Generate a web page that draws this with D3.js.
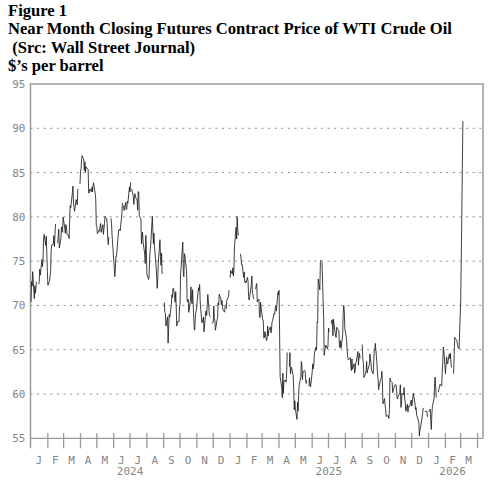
<!DOCTYPE html>
<html>
<head>
<meta charset="utf-8">
<script src="https://cdn.jsdelivr.net/npm/d3@7"></script>
<style>
  body { margin: 0; background: #fff; }
  svg { display: block; }
</style>
</head>
<body>
<svg id="plotCanvas" width="497" height="480"></svg>
<script>
// ---- data ----
var titleLines = ["Figure 1",
                  "Near Month Closing Futures Contract Price of WTI Crude Oil",
                  " (Src: Wall Street Journal)",
                  "$\u2019s per barrel"];

var yTicks = [55, 60, 65, 70, 75, 80, 85, 90, 95];
var gridValues = [60, 65, 70, 75, 80, 85, 90];
var monthLetters = ["J", "F", "M", "A", "M", "J", "J", "A", "S", "O", "N", "D"];
var yearLabels = [2024, 2025, 2026];

// exchange holidays: no close, line is broken there
var holidays = ["2024-01-01", "2024-01-15", "2024-02-19", "2024-03-29", "2024-05-27", "2024-06-19",
                "2024-07-04", "2024-09-02", "2024-11-28", "2024-12-25",
                "2025-01-01", "2025-01-20", "2025-02-17", "2025-04-18", "2025-05-26", "2025-06-19",
                "2025-07-04", "2025-09-01", "2025-11-27", "2025-12-25",
                "2026-01-01", "2026-01-19", "2026-02-16"];

// daily closes, in trading-day order
var close2024 = [
  70.38, 72.70, 72.19, 73.81, 70.77, 72.24, 71.37, 72.02, 72.68, 72.40, 72.56, 74.08, 73.41, 75.19, 74.37, 75.09, 77.36, 78.01, 76.78, 77.82, 75.85,
  73.82, 72.28, 72.78, 73.31, 73.86, 76.22, 76.84, 76.92, 77.87, 76.64, 78.03, 79.19, 77.04, 77.91, 78.61, 76.49, 77.58, 78.87, 78.54, 78.26,
  79.97, 78.74, 78.15, 79.13, 78.93, 78.01, 77.93, 77.56, 79.72, 81.26, 81.04, 82.72, 83.47, 81.68, 81.07, 80.63, 81.95, 81.62, 81.35, 83.17,
  83.71, 85.15, 85.43, 86.59, 86.91, 86.43, 85.23, 86.21, 85.02, 85.66, 85.41, 85.36, 82.69, 82.73, 83.14, 82.85, 83.36, 82.81, 83.57, 83.85, 82.63, 81.93,
  79.00, 78.95, 78.11, 78.48, 78.38, 78.99, 79.26, 78.26, 79.12, 78.02, 78.63, 79.23, 80.06, 79.80, 79.26, 77.57, 76.87, 77.72, 79.83, 79.23, 77.91, 76.99,
  74.22, 73.25, 74.07, 75.55, 75.53, 77.74, 78.50, 78.50, 78.62, 78.45, 80.33, 81.57, 81.29, 80.73, 81.63, 80.83, 80.90, 81.74, 81.54,
  83.38, 82.81, 83.88, 83.16, 82.33, 81.41, 82.10, 82.62, 82.21, 81.91, 80.76, 82.85, 82.82, 80.13, 79.78, 76.96, 77.59, 78.28, 77.16, 75.81, 74.73, 77.91,
  76.31, 73.52, 72.94, 73.20, 75.23, 76.19, 76.84, 80.06, 78.35, 76.98, 78.16, 76.65, 74.37, 73.17, 71.93, 73.01, 74.83, 77.42, 75.53, 74.52, 75.91, 73.55,
  70.34, 69.20, 69.15, 67.67, 68.71, 65.75, 67.31, 68.97, 68.65, 70.09, 71.19, 70.91, 71.95, 71.92, 70.37, 71.56, 69.69, 67.67, 68.18, 68.17,
  69.83, 70.10, 73.71, 74.38, 77.14, 73.57, 73.24, 75.85, 75.56, 73.83, 70.58, 70.39, 70.67, 69.22, 70.56, 72.09, 70.77, 70.19, 71.78, 67.38, 67.21, 68.61, 69.26,
  69.49, 71.47, 71.99, 71.69, 72.36, 70.38, 68.04, 68.12, 68.43, 68.70, 67.02, 69.16, 69.39, 68.87, 70.10, 71.24, 68.94, 68.77, 68.72, 68.00,
  68.10, 69.94, 68.54, 68.30, 67.20, 68.37, 68.59, 70.29, 70.02, 71.29, 70.71, 70.08, 70.58, 69.91, 69.46, 69.24, 70.10, 69.62, 70.60, 70.99, 71.72
];

var close2025 = [
  73.13, 73.96, 73.56, 74.25, 73.32, 73.92, 76.57, 78.82, 77.50, 80.04, 78.68, 77.88, 75.83, 75.44, 74.62, 74.66, 73.17, 73.77, 72.62, 72.73, 72.53,
  73.16, 72.70, 71.03, 70.61, 71.00, 72.32, 73.32, 71.37, 71.29, 70.74, 71.85, 72.25, 72.48, 70.40, 70.70, 68.93, 68.62, 70.35, 69.76,
  68.37, 68.26, 66.31, 66.36, 67.04, 66.03, 66.25, 67.68, 66.55, 67.18, 67.58, 66.90, 67.16, 68.07, 68.28, 69.11, 69.00, 69.65, 69.92, 69.36, 71.48,
  71.20, 71.71, 66.95, 61.99, 60.70, 59.58, 62.35, 60.07, 61.50, 61.53, 61.33, 62.47, 64.68, 63.08, 64.67, 62.27, 62.79, 63.02, 62.05, 60.42, 58.21,
  59.24, 58.29, 57.13, 59.09, 58.07, 59.91, 61.02, 61.95, 63.67, 63.15, 61.62, 62.49, 62.69, 62.56, 61.57, 61.20, 61.53, 60.89, 61.84, 60.94, 60.79,
  62.52, 63.41, 62.85, 63.37, 64.58, 65.29, 64.98, 68.15, 68.04, 72.98, 71.77, 74.84, 75.14, 74.93, 68.51, 64.37, 64.92, 65.24, 65.52, 65.11,
  65.45, 67.45, 67.00, 67.93, 68.33, 68.38, 66.57, 68.45, 66.98, 66.52, 66.38, 67.54, 67.34, 67.20, 65.31, 65.25, 66.03, 65.16, 66.71, 69.21, 70.00, 69.26,
  67.33, 66.29, 65.16, 64.35, 63.88, 63.88, 64.10, 63.17, 62.65, 63.96, 62.80, 63.42, 62.35, 62.71, 63.52, 63.66, 64.80, 63.25, 64.15, 64.60, 64.01,
  65.59, 63.97, 63.48, 61.87, 62.26, 62.63, 63.67, 62.37, 62.69, 63.30, 64.52, 64.05, 63.57, 62.68, 62.28, 63.41, 64.99, 64.98, 65.72, 63.45, 62.37,
  61.78, 60.48, 60.88, 61.69, 61.73, 62.55, 61.51, 58.90, 59.49, 58.70, 58.27, 57.46, 57.54, 57.52, 57.24, 58.50, 61.79, 61.50, 61.31, 60.15, 60.48, 60.57, 60.98,
  61.05, 60.56, 59.60, 59.43, 59.75, 60.13, 61.04, 58.49, 58.69, 60.09, 59.91, 60.74, 59.44, 59.14, 58.06, 58.84, 57.95, 58.65, 58.55,
  59.32, 58.64, 58.95, 59.67, 60.08, 58.88, 58.25, 58.46, 57.60, 57.44, 56.82, 55.27, 55.94, 56.15, 56.52, 57.80, 58.38, 58.35, 58.00, 58.08, 57.95, 57.42
];

var close2026 = [
  58.00, 58.30, 57.00, 56.00, 57.80, 58.60, 59.50, 61.20, 61.90, 60.80, 59.60, 60.20, 60.60, 60.80, 61.10, 60.90, 62.40, 63.50, 65.30, 64.90,
  62.30, 63.20, 64.20, 63.80, 63.40, 64.50, 64.00, 64.60, 63.60, 63.00, 62.30, 64.50, 66.40, 66.30, 66.00, 65.60, 65.30, 65.20, 65.10,
  70.50, 75.00, 80.00, 85.50, 90.80
];

// ---- layout ----
var plotLeft = 30.5, plotRight = 483, plotTop = 84, plotBottom = 438.3;
var tickFont = "'DejaVu Sans Mono', monospace";
var frameColor = "#9a9a9a";
var labelColor = "#858585";

//walk the weekdays of a year, holidays become gaps
function buildSeries(year, closes)
{
   var fmt = d3.timeFormat("%Y-%m-%d");
   var out = [];
   var day = new Date(year, 0, 1);
   var i = 0;
   while (i < closes.length)
   {
      var dow = day.getDay();
      if (dow != 0 && dow != 6)
      {
         if (holidays.indexOf(fmt(day)) >= 0)
         {
            out.push({date: new Date(day), value: null});
         }
         else
         {
            out.push({date: new Date(day), value: closes[i]});
            i++;
         }
      }
      day.setDate(day.getDate() + 1);
   }
   return out;
}

var series = buildSeries(2024, close2024)
   .concat(buildSeries(2025, close2025))
   .concat(buildSeries(2026, close2026));

var canvas = d3.select("#plotCanvas");

var x = d3.scaleTime()
   .domain([new Date(2024, 0, 1), new Date(2026, 3, 12)])
   .range([plotLeft, plotRight]);

var y = d3.scaleLinear()
   .domain([55, 95])
   .range([plotBottom, plotTop]);

// title block
canvas.selectAll("text.title")
   .data(titleLines)
   .enter().append("text")
   .attr("class", "title")
   .attr("x", 8)
   .attr("y", function(d, i) { return 16 + i * 18.4; })
   .attr("font-family", "'Liberation Serif', 'Times New Roman', serif")
   .attr("font-weight", "bold")
   .attr("font-size", "16.6px")
   .attr("fill", "#000")
   .attr("xml:space", "preserve")
   .style("white-space", "pre")
   .text(function(d) { return d; });

// dotted grid
canvas.selectAll("line.grid")
   .data(gridValues)
   .enter().append("line")
   .attr("class", "grid")
   .attr("x1", plotLeft)
   .attr("x2", plotRight)
   .attr("y1", function(d) { return y(d); })
   .attr("y2", function(d) { return y(d); })
   .attr("stroke", "#8c8c8c")
   .attr("stroke-width", 1)
   .attr("stroke-dasharray", "2,4.6");

// frame: left (runs down past the axis), top, right, bottom axis line
canvas.append("path")
   .attr("d", "M" + plotLeft + "," + (plotBottom + 10) + "V" + plotTop + "H" + plotRight + "V" + plotBottom)
   .attr("fill", "none")
   .attr("stroke", frameColor)
   .attr("stroke-width", 1.5);

canvas.append("line")
   .attr("x1", plotLeft).attr("x2", plotRight)
   .attr("y1", plotBottom).attr("y2", plotBottom)
   .attr("stroke", frameColor)
   .attr("stroke-width", 1.3);

// y labels
var yAxis = d3.axisLeft(y).tickValues(yTicks).tickSize(0).tickPadding(5);
var gy = canvas.append("g")
   .attr("transform", "translate(" + plotLeft + ",0)")
   .call(yAxis);
gy.select(".domain").remove();
gy.selectAll("text")
   .attr("font-family", tickFont)
   .attr("font-size", "11px")
   .attr("fill", labelColor);

// month boundary ticks crossing the axis
var monthStarts = d3.timeMonth.range(new Date(2024, 1, 1), new Date(2026, 3, 2));
var xTickAxis = d3.axisBottom(x).tickValues(monthStarts).tickSize(15).tickFormat("");
var gt = canvas.append("g")
   .attr("transform", "translate(0," + (plotBottom - 5) + ")")
   .call(xTickAxis);
gt.select(".domain").remove();
gt.selectAll("line").attr("stroke", frameColor).attr("stroke-width", 1.3);

// month letters centred in each month
var labelMonths = d3.timeMonth.range(new Date(2024, 0, 1), new Date(2026, 3, 1));
canvas.selectAll("text.month")
   .data(labelMonths)
   .enter().append("text")
   .attr("class", "month")
   .attr("x", function(d) { return (x(d) + x(d3.timeMonth.offset(d, 1))) / 2; })
   .attr("y", 463.5)
   .attr("text-anchor", "middle")
   .attr("font-family", tickFont)
   .attr("font-size", "11px")
   .attr("fill", labelColor)
   .text(function(d) { return monthLetters[d.getMonth()]; });

// years centred under their visible months
var lastMonthEnd = new Date(2026, 3, 1);
canvas.selectAll("text.year")
   .data(yearLabels)
   .enter().append("text")
   .attr("class", "year")
   .attr("x", function(d) {
      var a = new Date(d, 0, 1);
      var b = new Date(Math.min(new Date(d + 1, 0, 1), lastMonthEnd));
      return (x(a) + x(b)) / 2;
   })
   .attr("y", 475)
   .attr("text-anchor", "middle")
   .attr("font-family", tickFont)
   .attr("font-size", "11px")
   .attr("fill", labelColor)
   .text(function(d) { return d; });

// price line
var line = d3.line()
   .defined(function(d) { return d.value != null; })
   .x(function(d) { return x(d.date); })
   .y(function(d) { return y(d.value); });

canvas.append("path")
   .datum(series)
   .attr("d", line)
   .attr("fill", "none")
   .attr("stroke", "#1e1e1e")
   .attr("stroke-width", 0.85)
   .attr("stroke-linejoin", "round");
</script>
</body>
</html>
